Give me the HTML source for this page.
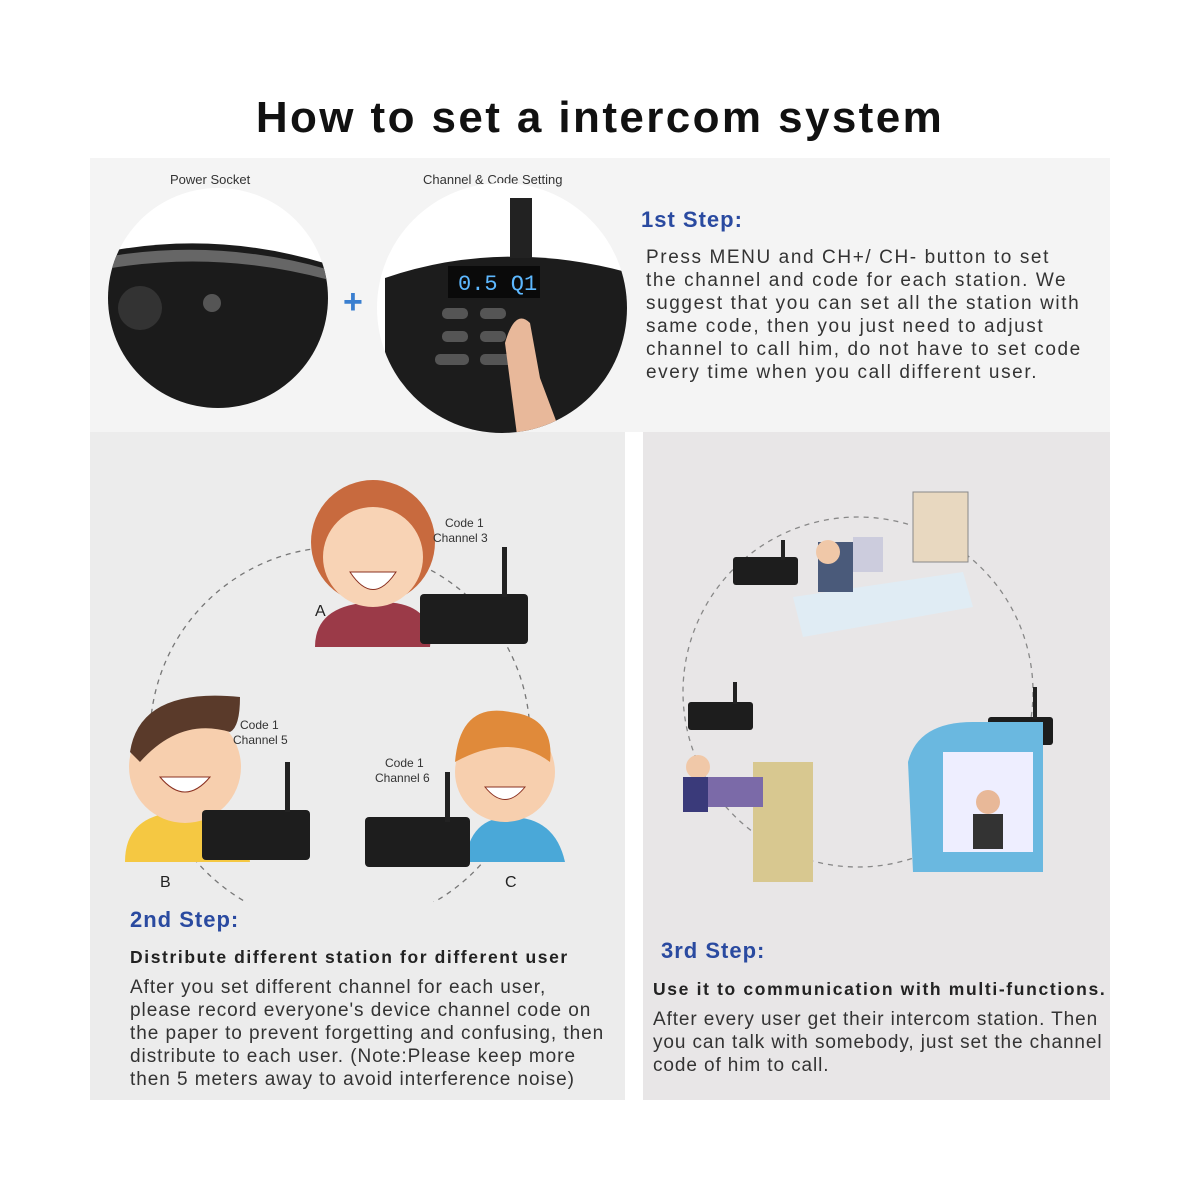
<!DOCTYPE html>
<html><head><style>
body{margin:0;width:1200px;height:1200px;background:#fff;position:relative;overflow:hidden;font-family:"Liberation Sans",sans-serif;}
.a{position:absolute;}
.t{color:#333;font-size:19px;line-height:23px;letter-spacing:0.95px;white-space:nowrap;}
.h{color:#2a4aa0;font-weight:bold;font-size:22px;letter-spacing:1px;}
.b{color:#222;font-weight:bold;font-size:17.5px;letter-spacing:1.6px;white-space:nowrap;}
</style></head><body>
<div class="a" style="left:0;top:93px;width:1200px;text-align:center;font-weight:bold;font-size:44px;letter-spacing:2.4px;color:#111;">How to set a intercom system</div>
<div class="a" style="left:90px;top:158px;width:1020px;height:274px;background:#f4f4f4"></div>
<div class="a" style="left:90px;top:432px;width:535px;height:668px;background:#ececec"></div>
<div class="a" style="left:643px;top:432px;width:467px;height:668px;background:#e8e6e7"></div>

<div class="a" style="left:170px;top:172px;font-size:13px;color:#333">Power Socket</div>
<div class="a" style="left:423px;top:172px;font-size:13px;color:#333">Channel &amp; Code Setting</div>
<svg class="a" style="left:90px;top:158px" width="560" height="290">
<defs><clipPath id="c1"><circle cx="128" cy="140" r="110"/></clipPath><clipPath id="c2"><circle cx="412" cy="150" r="125"/></clipPath></defs>
<g clip-path="url(#c1)"><rect x="0" y="0" width="260" height="280" fill="#fff"/><path d="M10 95 Q130 70 250 110 L250 300 L10 300Z" fill="#1b1b1b"/><path d="M10 100 Q130 78 250 115 L250 125 Q130 90 10 112Z" fill="#666"/><circle cx="50" cy="150" r="22" fill="#333"/><circle cx="122" cy="145" r="9" fill="#555"/></g>
<g clip-path="url(#c2)"><rect x="280" y="20" width="270" height="280" fill="#fff"/><path d="M295 120 Q412 80 540 115 L540 300 L295 300Z" fill="#1c1c1c"/><rect x="420" y="40" width="22" height="60" fill="#222"/><rect x="358" y="108" width="92" height="32" fill="#0a0a0a"/><text x="368" y="132" fill="#5db8ff" font-size="22" font-family="Liberation Mono">0.5 Q1</text>
<g fill="#555"><rect x="352" y="150" width="26" height="11" rx="5"/><rect x="390" y="150" width="26" height="11" rx="5"/><rect x="352" y="173" width="26" height="11" rx="5"/><rect x="390" y="173" width="26" height="11" rx="5"/><rect x="345" y="196" width="34" height="11" rx="5"/><rect x="390" y="196" width="34" height="11" rx="5"/></g>
<path d="M415 185 Q425 150 440 165 L450 220 L480 300 L430 300Z" fill="#e8b89a"/></g>
<text x="253" y="155" fill="#3a7fd0" font-size="34" font-weight="bold">+</text>
</svg>
<div class="a h" style="left:641px;top:207px">1st Step:</div>
<div class="a t" style="left:646px;top:246px;letter-spacing:1.6px">Press MENU and CH+/ CH- button to set<br>the channel and code for each station. We<br>suggest that you can set all the station with<br>same code, then you just need to adjust<br>channel to call him, do not have to set code<br>every time when you call different user.</div>

<svg class="a" style="left:90px;top:432px" width="535" height="470">
<circle cx="250" cy="305" r="190" fill="none" stroke="#777" stroke-dasharray="5 5" stroke-width="1.3"/>
<g><path d="M225 215 Q225 170 290 170 Q345 170 340 215Z" fill="#9b3a48"/><circle cx="283" cy="110" r="62" fill="#c86a3e"/><circle cx="283" cy="125" r="50" fill="#f8d3b5"/><path d="M260 140 Q283 175 306 140Z" fill="#fff" stroke="#8a3020"/></g>
<text x="225" y="184" font-size="16" fill="#222">A</text>
<rect x="330" y="162" width="108" height="50" fill="#1d1d1d" rx="4"/><rect x="412" y="115" width="5" height="50" fill="#222"/>
<text x="355" y="95" font-size="12" fill="#333">Code 1</text><text x="343" y="110" font-size="12" fill="#333">Channel 3</text>
<g><path d="M35 430 Q35 380 95 380 Q155 380 160 430Z" fill="#f5c842"/><circle cx="95" cy="335" r="56" fill="#f7cfae"/><path d="M40 320 Q50 255 150 265 Q150 295 140 300 Q90 285 50 330Z" fill="#5a3a2a"/><path d="M70 345 Q95 375 120 345Z" fill="#fff" stroke="#8a3020"/></g>
<text x="70" y="455" font-size="16" fill="#222">B</text>
<rect x="112" y="378" width="108" height="50" fill="#1d1d1d" rx="4"/><rect x="195" y="330" width="5" height="50" fill="#222"/>
<text x="150" y="297" font-size="12" fill="#333">Code 1</text><text x="143" y="312" font-size="12" fill="#333">Channel 5</text>
<g><path d="M375 430 Q380 385 420 385 Q465 385 475 430Z" fill="#4aa8d8"/><circle cx="415" cy="340" r="50" fill="#f7cfae"/><path d="M365 330 Q370 270 420 280 Q465 285 460 330 Q420 300 365 330Z" fill="#e08a3a"/><path d="M395 355 Q415 380 435 355Z" fill="#fff" stroke="#8a3020"/></g>
<text x="415" y="455" font-size="16" fill="#222">C</text>
<rect x="275" y="385" width="105" height="50" fill="#1d1d1d" rx="4"/><rect x="355" y="340" width="5" height="50" fill="#222"/>
<text x="295" y="335" font-size="12" fill="#333">Code 1</text><text x="285" y="350" font-size="12" fill="#333">Channel 6</text>
</svg>
<div class="a h" style="left:130px;top:907px">2nd Step:</div>
<div class="a b" style="left:130px;top:947px">Distribute different station for different user</div>
<div class="a t" style="left:130px;top:976px">After you set different channel for each user,<br>please record everyone's device channel code on<br>the paper to prevent forgetting and confusing, then<br>distribute to each user. (Note:Please keep more<br>then 5 meters away to avoid interference noise)</div>

<svg class="a" style="left:643px;top:432px" width="467" height="480">
<circle cx="215" cy="260" r="175" fill="none" stroke="#888" stroke-dasharray="5 5" stroke-width="1.3"/>
<path d="M150 165 L320 140 L330 175 L160 205Z" fill="#e0ecf4"/><rect x="270" y="60" width="55" height="70" fill="#e8d8c0" stroke="#888"/><rect x="175" y="110" width="35" height="50" fill="#4a5a7a"/><circle cx="185" cy="120" r="12" fill="#f0c8a8"/><rect x="210" y="105" width="30" height="35" fill="#ccd"/>
<rect x="90" y="125" width="65" height="28" fill="#1d1d1d" rx="3"/><rect x="138" y="108" width="4" height="20" fill="#222"/>
<rect x="45" y="270" width="65" height="28" fill="#1d1d1d" rx="3"/><rect x="90" y="250" width="4" height="22" fill="#222"/>
<rect x="345" y="285" width="65" height="28" fill="#1d1d1d" rx="3"/><rect x="390" y="255" width="4" height="32" fill="#222"/>
<rect x="110" y="330" width="60" height="120" fill="#d8c890"/><rect x="60" y="345" width="60" height="30" fill="#7b6aa8"/><circle cx="55" cy="335" r="12" fill="#f0c8a8"/><rect x="40" y="345" width="25" height="35" fill="#3a3a7a"/>
<path d="M265 330 Q275 290 330 290 L400 290 L400 440 L270 440Z" fill="#6ab8e0"/><rect x="300" y="320" width="90" height="100" fill="#eef"/><circle cx="345" cy="370" r="12" fill="#e8b898"/><rect x="330" y="382" width="30" height="35" fill="#333"/>
</svg>
<div class="a h" style="left:661px;top:938px">3rd Step:</div>
<div class="a b" style="left:653px;top:979px;letter-spacing:1.65px">Use it to communication with multi-functions.</div>
<div class="a t" style="left:653px;top:1008px;letter-spacing:0.9px">After every user get their intercom station. Then<br>you can talk with somebody, just set the channel<br>code of him to call.</div>
</body></html>
